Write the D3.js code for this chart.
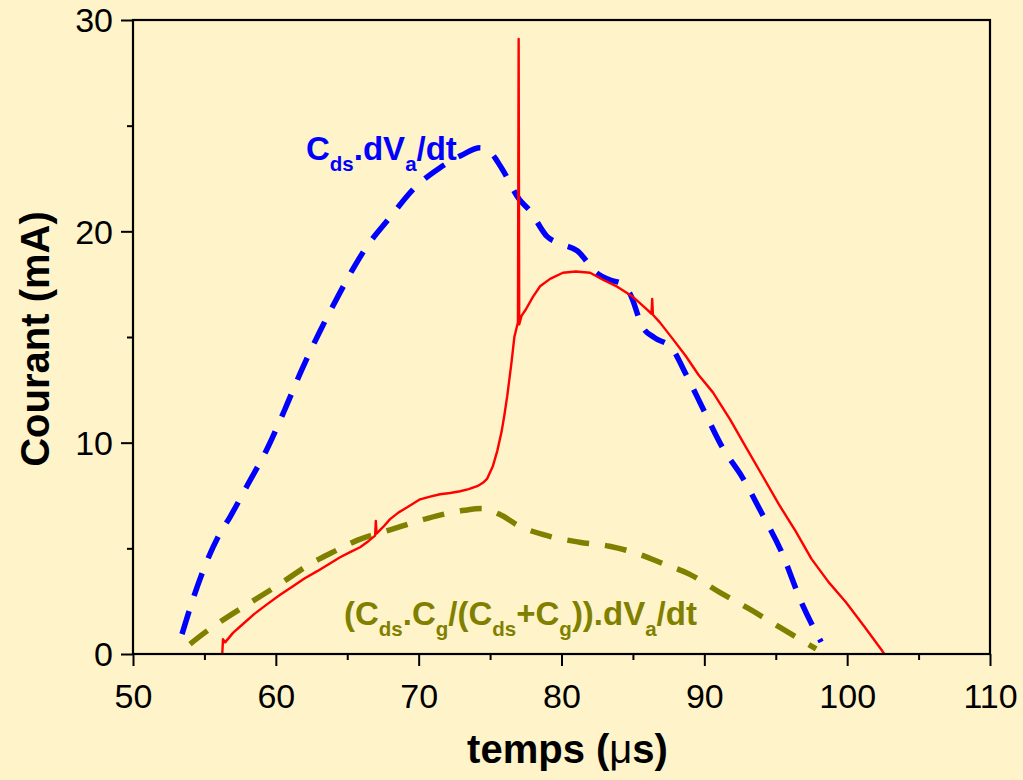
<!DOCTYPE html>
<html>
<head>
<meta charset="utf-8">
<script src="https://cdn.jsdelivr.net/npm/d3@7"></script>
<style>
  html, body { margin: 0; padding: 0; background: #FFF3C9; }
  svg { display: block; }
  text { font-family: "Liberation Sans", Arial, sans-serif; }
</style>
</head>
<body>
<div id="chart"></div>
<script>
// ---- data ----
const xTicks = [50, 60, 70, 80, 90, 100, 110];
const xMinorTicks = [55, 65, 75, 85, 95, 105];
const yTicks = [0, 10, 20, 30];
const yMinorTicks = [5, 15, 25];

// Cds.dVa/dt  (blue dashed)  [time µs, current mA]
const cdsCurve = [
  [53.43,0.94],[54.2,2.6],[55.0,4.1],[56.0,5.6],[56.78,6.47],[57.97,7.94],[59.37,9.68],
  [60.63,11.57],[61.82,13.46],[63.08,15.26],[64.34,16.91],[65.3,18.1],[66.22,19.13],
  [67.97,20.64],[69.72,22.06],[71.47,23.0],[73.0,23.6],[74.3,23.95],[75.0,23.75],
  [75.8,23.0],[77.06,21.5],[77.76,21.0],[79.0,19.75],[80.0,19.4],[81.1,19.08],
  [82.45,18.04],[83.36,17.71],[84.3,17.5],[84.83,17.0],[85.66,15.49],[86.5,14.97],
  [87.69,14.5],[88.74,13.2],[90.0,11.48],[91.26,9.78],[92.66,8.36],[94.06,6.61],
  [95.38,4.87],[96.85,2.36],[98.18,0.57]
];

// (Cds.Cg/(Cds+Cg)).dVa/dt  (olive dashed)
const seriesCurve = [
  [53.99,0.47],[55.0,1.0],[56.08,1.51],[58.04,2.36],[60.28,3.31],[62.38,4.25],
  [63.99,4.82],[65.73,5.39],[68.11,5.9],[70.63,6.42],[73.22,6.8],[74.4,6.88],
  [75.66,6.61],[77.06,6.05],[79.16,5.57],[81.26,5.29],[83.36,5.1],[85.45,4.72],
  [87.2,4.25],[88.95,3.78],[91.05,2.93],[93.15,2.13],[95.24,1.28],[97.83,0.24]
];

// measured current (red)
const measured = [
  [56.25,0.0],[56.3,0.7],[56.45,0.55],[57.0,1.0],[57.7,1.42],[58.5,1.9],[59.4,2.36],
  [60.3,2.8],[61.2,3.21],[62.0,3.57],[62.9,3.92],[63.7,4.25],[64.5,4.58],[65.2,4.82],
  [65.9,5.05],[66.5,5.35],[66.95,5.6],[67.0,6.3],[67.05,5.7],[67.5,6.0],[68.0,6.38],
  [68.6,6.7],[69.2,6.94],[70.1,7.32],[70.8,7.45],[71.5,7.56],[72.2,7.62],[72.9,7.7],
  [73.5,7.8],[74.1,7.94],[74.5,8.1],[74.8,8.3],[75.2,8.9],[75.5,9.6],[75.8,10.5],
  [76.0,11.3],[76.2,12.2],[76.5,13.8],[76.7,15.0],[76.95,15.7],[77.0,29.1],[77.04,15.6],
  [77.2,16.0],[77.5,16.3],[78.0,16.9],[78.5,17.4],[79.2,17.75],[80.1,18.04],[81.0,18.1],
  [82.0,18.04],[82.9,17.71],[83.9,17.38],[85.0,16.9],[85.9,16.35],[86.3,16.1],
  [86.35,16.8],[86.4,16.05],[86.9,15.68],[87.8,14.9],[88.7,14.1],[89.6,13.2],
  [90.6,12.38],[91.8,11.1],[92.9,9.8],[94.1,8.4],[95.2,7.1],[96.4,5.8],[97.5,4.5],
  [98.7,3.4],[99.9,2.46],[101.2,1.3],[102.4,0.2],[102.6,0.0]
];

const xTitle = ["temps (", "μ", "s)"];
const yTitle = "Courant (mA)";

// ---- layout ----
const W = 1023, H = 780;
const mLeft = 133, mRight = 990, mTop = 20, mBottom = 654;

const svg = d3.select("#chart").append("svg")
  .attr("width", W).attr("height", H);

svg.append("rect").attr("width", W).attr("height", H).attr("fill", "#FFF3C9");

const x = d3.scaleLinear().domain([50, 110]).range([mLeft, mRight]);
const y = d3.scaleLinear().domain([0, 30]).range([mBottom, mTop]);

// curves
const smooth = d3.line().x(d => x(d[0])).y(d => y(d[1])).curve(d3.curveMonotoneX);
const plain = d3.line().x(d => x(d[0])).y(d => y(d[1]));

svg.append("path").datum(cdsCurve)
  .attr("d", smooth).attr("fill", "none")
  .attr("stroke", "#0000FF").attr("stroke-width", 5.5)
  .attr("stroke-dasharray", "24,16");

svg.append("path").datum(seriesCurve)
  .attr("d", smooth).attr("fill", "none")
  .attr("stroke", "#808000").attr("stroke-width", 5.5)
  .attr("stroke-dasharray", "22,16");

svg.append("path").datum(measured)
  .attr("d", plain).attr("fill", "none")
  .attr("stroke", "#FF0000").attr("stroke-width", 2.4)
  .attr("stroke-linejoin", "round");

// axes
const axisColor = "#000";
const xAxis = svg.append("g").attr("transform", `translate(0,${mBottom})`)
  .call(d3.axisBottom(x).tickValues(xTicks).tickSize(12).tickFormat(d3.format("d")));
const xMinor = svg.append("g").attr("transform", `translate(0,${mBottom})`)
  .call(d3.axisBottom(x).tickValues(xMinorTicks).tickSize(6).tickFormat(""));
const yAxis = svg.append("g").attr("transform", `translate(${mLeft},0)`)
  .call(d3.axisLeft(y).tickValues(yTicks).tickSize(12).tickFormat(d3.format("d")));
const yMinor = svg.append("g").attr("transform", `translate(${mLeft},0)`)
  .call(d3.axisLeft(y).tickValues(yMinorTicks).tickSize(6).tickFormat(""));

[xAxis, xMinor, yAxis, yMinor].forEach(g => {
  g.select(".domain").remove();
  g.selectAll(".tick line").attr("stroke", axisColor).attr("stroke-width", 2);
});
xAxis.selectAll(".tick text")
  .attr("font-size", 34).attr("fill", "#000").attr("dy", null).attr("y", 54)
  .attr("font-family", '"Liberation Sans", Arial, sans-serif');
yAxis.selectAll(".tick text")
  .attr("font-size", 34).attr("fill", "#000").attr("x", -20).attr("dy", "0.35em")
  .attr("font-family", '"Liberation Sans", Arial, sans-serif');

// frame
svg.append("rect")
  .attr("x", mLeft).attr("y", mTop)
  .attr("width", mRight - mLeft).attr("height", mBottom - mTop)
  .attr("fill", "none").attr("stroke", "#000").attr("stroke-width", 2.2);

// axis titles
const xt = svg.append("text")
  .attr("x", (mLeft + mRight) / 2 + 6).attr("y", 763)
  .attr("text-anchor", "middle").attr("font-size", 40).attr("font-weight", "bold")
  .attr("fill", "#000");
xt.append("tspan").text(xTitle[0]);
xt.append("tspan").attr("font-weight", "normal").text(xTitle[1]);
xt.append("tspan").text(xTitle[2]);

svg.append("text")
  .attr("transform", `translate(49,${(mTop + mBottom) / 2 + 2}) rotate(-90)`)
  .attr("text-anchor", "middle").attr("font-size", 40).attr("font-weight", "bold")
  .attr("fill", "#000").text(yTitle);

// curve labels with subscripts
function richLabel(parts, px, py, color) {
  const t = svg.append("text").attr("x", px).attr("y", py)
    .attr("font-size", 33).attr("font-weight", "bold").attr("fill", color);
  let shifted = false;
  parts.forEach(p => {
    const s = t.append("tspan").text(p.t);
    if (p.sub && !shifted) { s.attr("font-size", 20.5).attr("dy", 11); shifted = true; }
    else if (!p.sub && shifted) { s.attr("dy", -11); shifted = false; }
    else if (p.sub) { s.attr("font-size", 20.5); }
  });
}
richLabel([
  {t:"C"},{t:"ds",sub:true},{t:".dV"},{t:"a",sub:true},{t:"/dt"}
], 306, 160, "#0000FF");
richLabel([
  {t:"(C"},{t:"ds",sub:true},{t:".C"},{t:"g",sub:true},{t:"/(C"},{t:"ds",sub:true},
  {t:"+C"},{t:"g",sub:true},{t:")).dV"},{t:"a",sub:true},{t:"/dt"}
], 344, 625, "#808000");
</script>
</body>
</html>
